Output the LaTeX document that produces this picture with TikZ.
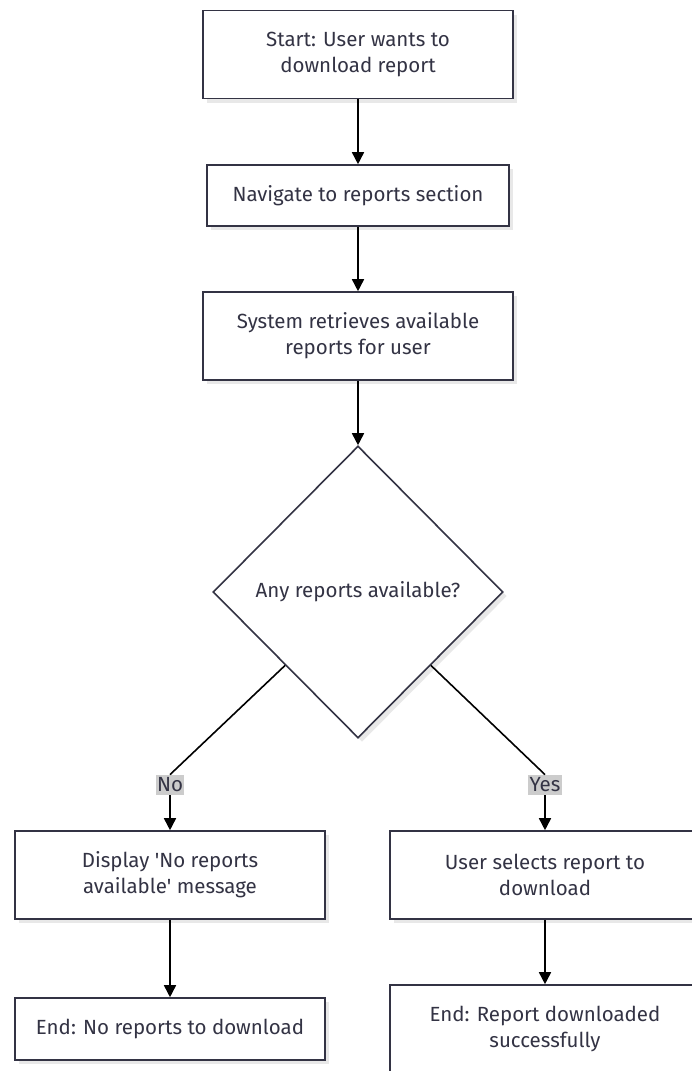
\documentclass[tikz,border=0pt]{standalone}
\usepackage{fontspec}
\setmainfont{Fira Sans}
\usepackage{tikz}
\usetikzlibrary{arrows.meta,positioning,shapes.geometric,shadows}
\definecolor{flowink}{RGB}{51,51,68}
\definecolor{flowlabel}{RGB}{204,204,204}
\definecolor{flowshade}{RGB}{232,232,232}
\tikzset{
  fstep/.style  ={rectangle, draw=flowink, fill=white, line width=1.6pt,
                  minimum width=310pt, minimum height=88pt, inner sep=0pt,
                  align=center, text=flowink, font=\fontsize{20.5}{26}\selectfont,
                  drop shadow={shadow xshift=4pt, shadow yshift=-4pt,
                               fill=flowshade, opacity=1}},
  fstepthin/.style={fstep, minimum width=302pt, minimum height=61pt},
  fdecide/.style={diamond, draw=flowink, fill=white, line width=1.6pt,
                  minimum width=290pt, minimum height=292pt, inner sep=0pt,
                  text=flowink, font=\fontsize{20.5}{26}\selectfont,
                  drop shadow={shadow xshift=4pt, shadow yshift=-4pt,
                               fill=flowshade, opacity=1}},
  flabel/.style ={rectangle, fill=flowlabel, inner xsep=1.5pt, inner ysep=3pt,
                  text=flowink, font=\fontsize{20.5}{22}\selectfont},
  fline/.style  ={line width=1.6pt, black},
  farrow/.style ={fline, -{Triangle[length=12pt, width=12pt]}},
}
\begin{document}
\begin{tikzpicture}[x=1pt, y=-1pt]
  \useasboundingbox[fill=white] (0,0) rectangle (691,1071);
  % main column
  \node[fstep]     (start)    at (358,54.5)  {Start: User wants to\\download report};
  \node[fstepthin] (navigate) at (358,195.5) {Navigate to reports section};
  \node[fstep]     (retrieve) at (358,336)   {System retrieves available\\reports for user};
  \node[fdecide]   (check)    at (358,592)   {Any reports available?};
  % branches
  \node[fstep]     (nomsg)    at (170,875)   {Display \textquotesingle No reports\\available\textquotesingle{} message};
  \node[fstep, minimum height=62pt] (endno) at (170,1029) {End: No reports to download};
  \node[fstep]     (select)   at (545,875)   {User selects report to\\download};
  \node[fstep]     (endok)    at (545,1029)  {End: Report downloaded\\successfully};
  \node[flabel]    (nolbl)    at (170,785)   {No};
  \node[flabel]    (yeslbl)   at (545,785)   {Yes};
  % connectors
  \draw[farrow] (start) -- (navigate);
  \draw[farrow] (navigate) -- (retrieve);
  \draw[farrow] (retrieve) -- (check);
  \draw[fline]  (check.south west) -- (nolbl.north);
  \draw[farrow] (nolbl) -- (nomsg);
  \draw[fline]  (check.south east) -- (yeslbl.north);
  \draw[farrow] (yeslbl) -- (select);
  \draw[farrow] (nomsg) -- (endno);
  \draw[farrow] (select) -- (endok);
\end{tikzpicture}
\end{document}
